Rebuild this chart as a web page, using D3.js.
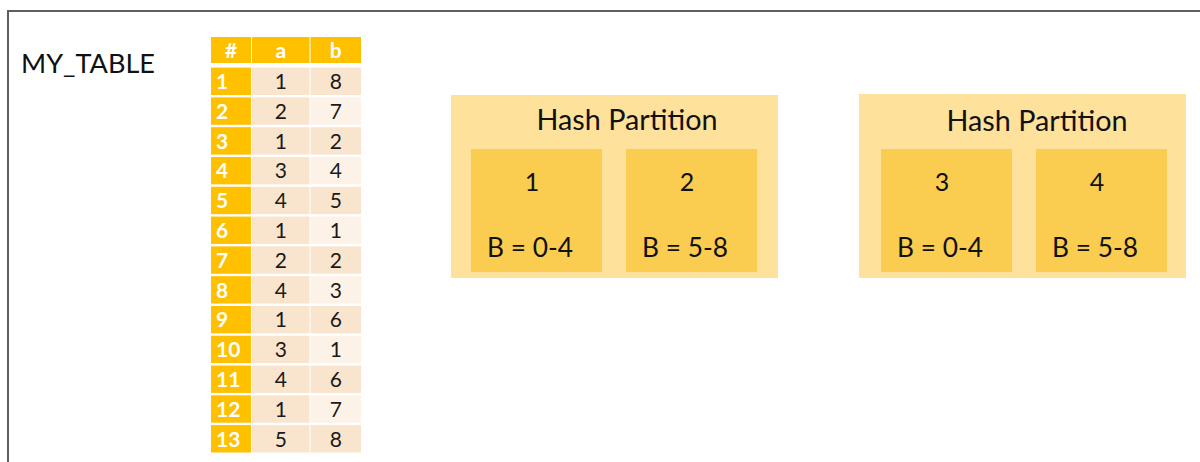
<!DOCTYPE html>
<html>
<head>
<meta charset="utf-8">
<script src="https://cdn.jsdelivr.net/npm/d3@7"></script>
<style>
  html, body { margin: 0; padding: 0; background: #fff; }
  svg { display: block; }
  text { font-family: Lato, "Open Sans", sans-serif; }
</style>
</head>
<body>
<script>
// ---- data ----
const tableName = "MY_TABLE";
const columns = ["#", "a", "b"];
const rowIds = [1, 2, 3, 4, 5, 6, 7, 8, 9, 10, 11, 12, 13];
const colA = [1, 2, 1, 3, 4, 1, 2, 4, 1, 3, 4, 1, 5];
const colB = [8, 7, 2, 4, 5, 1, 2, 3, 6, 1, 6, 7, 8];
const groupTitles = ["Hash Partition", "Hash Partition"];
const partitionIds = [1, 2, 3, 4];
const partitionRanges = ["B = 0-4", "B = 5-8", "B = 0-4", "B = 5-8"];

// ---- layout ----
const W = 1200, H = 462;
const svg = d3.select("body").append("svg").attr("width", W).attr("height", H);

const gold = "#FFC000", peach = "#F9E4CD", peachLight = "#FDF2E8";
const outerFill = "#FEE29B", innerFill = "#FACC4F";

function fit(sel, width) {
  sel.each(function () {
    const fs = parseFloat(this.getAttribute("font-size"));
    const w = this.getComputedTextLength();
    if (w > 0) this.setAttribute("font-size", (fs * width / w).toFixed(2));
  });
}

// frame
svg.append("path")
  .attr("d", `M8,${H} L8,11 L${W},11`)
  .attr("fill", "none").attr("stroke", "#5f5f5f").attr("stroke-width", 2);

// table name
svg.append("text").attr("x", 21).attr("y", 73).attr("font-size", 25)
  .attr("fill", "#111").text(tableName).call(fit, 134);

// table
const colEdges = { "#": [211, 251], "a": [252, 309.5], "b": [310.5, 361] };
const y = d3.scaleBand().domain(rowIds).range([67.6, 452.5]).paddingInner(0.08).paddingOuter(0);
const tbl = svg.append("g");

// header
columns.forEach(c => {
  const [x0, x1] = colEdges[c];
  tbl.append("rect").attr("x", x0).attr("y", 37).attr("width", x1 - x0).attr("height", 26).attr("fill", gold);
  tbl.append("text").attr("x", (x0 + x1) / 2).attr("y", 58).attr("text-anchor", "middle")
    .attr("font-size", 21).attr("font-weight", "bold").attr("fill", "#fff").text(c);
});

const rows = tbl.selectAll("g.row").data(rowIds.map((id, i) => ({ id, a: colA[i], b: colB[i], i })))
  .join("g").attr("class", "row").attr("transform", d => `translate(0,${y(d.id)})`);

rows.append("rect").attr("x", colEdges["#"][0]).attr("width", colEdges["#"][1] - colEdges["#"][0])
  .attr("height", y.bandwidth()).attr("fill", gold);
rows.append("rect").attr("x", colEdges.a[0]).attr("width", colEdges.a[1] - colEdges.a[0])
  .attr("height", y.bandwidth()).attr("fill", peach);
rows.append("rect").attr("x", colEdges.b[0]).attr("width", colEdges.b[1] - colEdges.b[0])
  .attr("height", y.bandwidth()).attr("fill", d => d.i % 2 === 0 ? peach : peachLight);

rows.append("text").attr("x", 216).attr("y", 21.5).attr("font-size", 21).attr("font-weight", "bold")
  .attr("fill", "#fff").text(d => d.id);
rows.append("text").attr("x", (colEdges.a[0] + colEdges.a[1]) / 2).attr("y", 21.5).attr("text-anchor", "middle")
  .attr("font-size", 21).attr("fill", "#1a1a1a").text(d => d.a);
rows.append("text").attr("x", (colEdges.b[0] + colEdges.b[1]) / 2).attr("y", 21.5).attr("text-anchor", "middle")
  .attr("font-size", 21).attr("fill", "#1a1a1a").text(d => d.b);

// partition groups
const groupX = d3.scalePoint().domain(d3.range(groupTitles.length)).range([451, 859]);
const groupTop = [95, 94];
const innerShift = [0, 2];
const groups = svg.selectAll("g.grp").data(groupTitles.map((t, i) => ({ t, i })))
  .join("g").attr("class", "grp").attr("transform", d => `translate(${groupX(d.i)},${groupTop[d.i]})`);

groups.append("rect").attr("width", 327).attr("height", d => 278 - groupTop[d.i]).attr("fill", outerFill);
groups.append("text").attr("x", d => 176 + innerShift[d.i]).attr("y", d => 130 - groupTop[d.i] + (d.i ? 1 : 0)).attr("text-anchor", "middle")
  .attr("font-size", 26).attr("fill", "#111").text(d => d.t).call(fit, 181);

const innerX = d3.scalePoint().domain([0, 1]).range([20, 175]);
const parts = groups.selectAll("g.part")
  .data(d => partitionIds.slice(d.i * 2, d.i * 2 + 2).map((p, j) => ({ p, j, g: d.i, r: partitionRanges[d.i * 2 + j], top: groupTop[d.i] })))
  .join("g").attr("class", "part")
  .attr("transform", d => `translate(${innerX(d.j) + innerShift[d.g]},${149 - d.top})`);

parts.append("rect").attr("width", 131).attr("height", 123).attr("fill", innerFill);
parts.append("text").attr("x", 61).attr("y", 42).attr("text-anchor", "middle")
  .attr("font-size", 25).attr("fill", "#111").text(d => d.p);
parts.append("text").attr("x", 16).attr("y", 108)
  .attr("font-size", 22).attr("fill", "#111").text(d => d.r).call(fit, 86);
</script>
</body>
</html>
